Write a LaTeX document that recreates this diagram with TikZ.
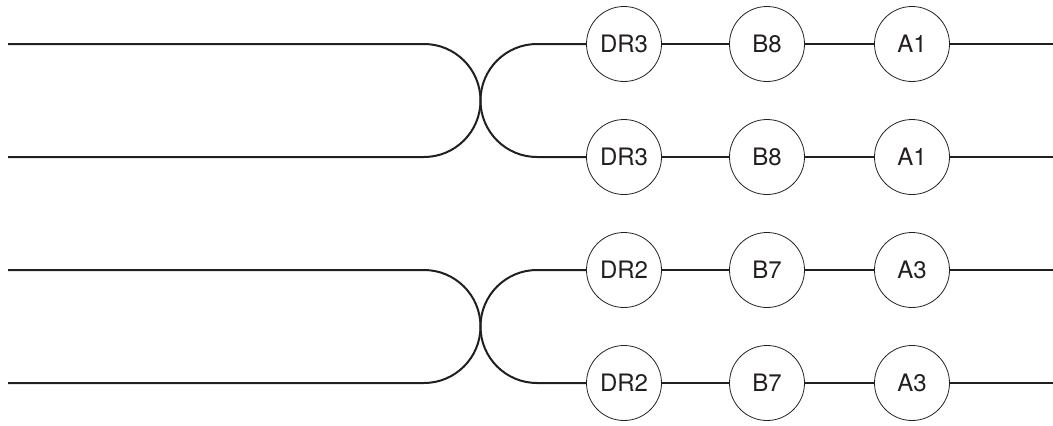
\documentclass[tikz,border=0pt]{standalone}
\usepackage{fontspec}
\setmainfont{TeX Gyre Heros}
\definecolor{ink}{HTML}{231F20}
\newcommand{\disctext}{\fontsize{24pt}{26pt}\selectfont}
\begin{document}
\begin{tikzpicture}[x=1pt,y=1pt,
  wire/.style={draw=ink,line width=2pt},
  disc/.style={circle,draw=ink,line width=0.8pt,minimum size=75pt,inner sep=0pt,fill=white,font=\disctext,text=ink}]
\useasboundingbox (0,0) rectangle (1053,-426);
\foreach \g/\ya/\yb/\da/\ba/\aa in {1/-44/-157/DR3/B8/A1, 2/-270/-383/DR2/B7/A3}{
  \foreach \r/\y in {u/\ya, l/\yb}{
    \coordinate (s\g\r) at (8,\y);
    \coordinate (e\g\r) at (1053,\y);
    \node[disc] (d\g\r) at (624,\y) {\da};
    \node[disc] (b\g\r) at (767,\y) {\ba};
    \node[disc] (a\g\r) at (912,\y) {\aa};
    \draw[wire] (d\g\r) -- (b\g\r);
    \draw[wire] (b\g\r) -- (a\g\r);
    \draw[wire] (a\g\r) -- (e\g\r);
  }
  \draw[wire] (s\g u) -- (424,\ya) arc[start angle=90,end angle=0,radius=56.5]
     arc[start angle=0,end angle=-90,radius=56.5] -- (s\g l);
  \draw[wire] (d\g u.west) -- (537,\ya) arc[start angle=90,end angle=180,radius=56.5]
     arc[start angle=180,end angle=270,radius=56.5] -- (d\g l.west);
}
\end{tikzpicture}
\end{document}
